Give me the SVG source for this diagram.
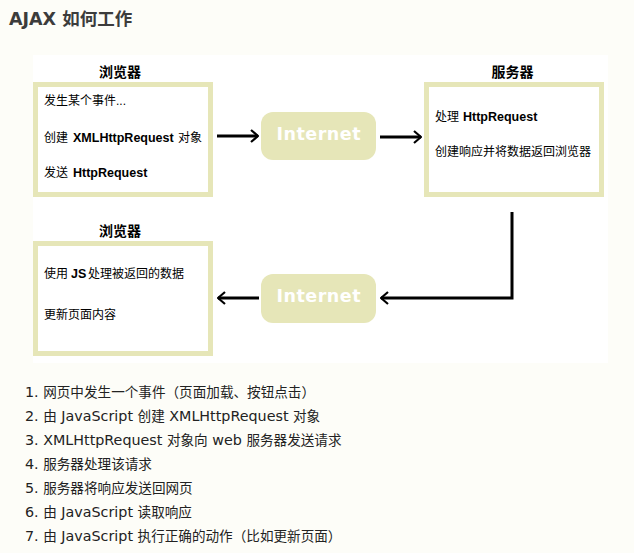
<svg xmlns="http://www.w3.org/2000/svg" width="634" height="553" viewBox="0 0 634 553">
<defs>
<style>
.title{font-family:"DejaVu Sans","Noto Sans CJK SC",sans-serif;font-weight:bold;font-size:17.5px;fill:#3c3c3c}
.lbl{font-family:"Liberation Sans","Noto Sans CJK SC",sans-serif;font-weight:bold;font-size:14px;fill:#000;text-anchor:middle}
.t{font-family:"Liberation Sans","Noto Sans CJK SC",sans-serif;font-size:12px;fill:#000}
.b{font-weight:bold;font-size:12.5px}
.box{fill:#fff;stroke:#e6e6b8;stroke-width:5}
.pill{fill:#e6e6b8}
.net{font-family:"DejaVu Sans",sans-serif;font-weight:bold;font-size:17.5px;fill:#fff;text-anchor:middle}
.ln{fill:none;stroke:#000;stroke-width:3}
.li{font-family:"DejaVu Sans","Noto Sans CJK SC",sans-serif;font-size:13.6px;fill:#222}
.la{font-size:14.3px}
</style>
<marker id="ah" viewBox="0 0 10 14" refX="9" refY="7" markerWidth="10" markerHeight="14" markerUnits="userSpaceOnUse" orient="auto">
<path d="M2,1 L9,7 L2,13" fill="none" stroke="#000" stroke-width="2.2"/>
</marker>
</defs>
<rect width="634" height="553" fill="#fdfdf8"/>
<text class="title" x="9" y="25">AJAX 如何工作</text>
<rect x="33" y="55" width="575" height="308" fill="#fff"/>

<g id="browser1">
<text class="lbl" x="120" y="77">浏览器</text>
<rect class="box" x="35.5" y="84.5" width="175" height="110"/>
<text class="t" x="44" y="105">发生某个事件...</text>
<text class="t" y="142"><tspan x="44">创建</tspan><tspan class="b" x="73">XMLHttpRequest</tspan><tspan x="178">对象</tspan></text>
<text class="t" y="177"><tspan x="44">发送</tspan><tspan class="b" x="73">HttpRequest</tspan></text>
</g>

<g id="internet1">
<rect class="pill" x="261" y="112" width="115" height="48" rx="12"/>
<text class="net" x="318.5" y="140" textLength="84" lengthAdjust="spacing">Internet</text>
</g>

<g id="server">
<text class="lbl" x="512.5" y="77">服务器</text>
<rect class="box" x="426.5" y="84.5" width="175" height="110"/>
<text class="t" y="121"><tspan x="435">处理</tspan><tspan class="b" x="463">HttpRequest</tspan></text>
<text class="t" x="435" y="156">创建响应并将数据返回浏览器</text>
</g>

<g id="internet2">
<rect class="pill" x="261" y="274" width="115" height="49" rx="12"/>
<text class="net" x="318.5" y="302" textLength="84" lengthAdjust="spacing">Internet</text>
</g>

<g id="browser2">
<text class="lbl" x="120" y="236">浏览器</text>
<rect class="box" x="35.5" y="243.5" width="175" height="110"/>
<text class="t" y="278"><tspan x="44">使用</tspan><tspan class="b" x="71">JS</tspan><tspan x="88">处理被返回的数据</tspan></text>
<text class="t" x="44" y="319">更新页面内容</text>
</g>

<g id="connectors">
<line class="ln" x1="217" y1="136" x2="258" y2="136" marker-end="url(#ah)"/>
<line class="ln" x1="380" y1="137" x2="421" y2="137" marker-end="url(#ah)"/>
<path class="ln" d="M512,212 V298 H381" marker-end="url(#ah)"/>
<line class="ln" x1="259" y1="298" x2="218" y2="298" marker-end="url(#ah)"/>
</g>

<g id="steps">
<text class="li" x="25" y="397"><tspan class="la">1. </tspan>网页中发生一个事件（页面加载、按钮点击）</text>
<text class="li" x="25" y="421"><tspan class="la">2. </tspan>由<tspan class="la"> JavaScript </tspan>创建<tspan class="la"> XMLHttpRequest </tspan>对象</text>
<text class="li" x="25" y="445"><tspan class="la">3. XMLHttpRequest </tspan>对象向<tspan class="la"> web </tspan>服务器发送请求</text>
<text class="li" x="25" y="469"><tspan class="la">4. </tspan>服务器处理该请求</text>
<text class="li" x="25" y="493"><tspan class="la">5. </tspan>服务器将响应发送回网页</text>
<text class="li" x="25" y="517"><tspan class="la">6. </tspan>由<tspan class="la"> JavaScript </tspan>读取响应</text>
<text class="li" x="25" y="541"><tspan class="la">7. </tspan>由<tspan class="la"> JavaScript </tspan>执行正确的动作（比如更新页面）</text>
</g>
</svg>
